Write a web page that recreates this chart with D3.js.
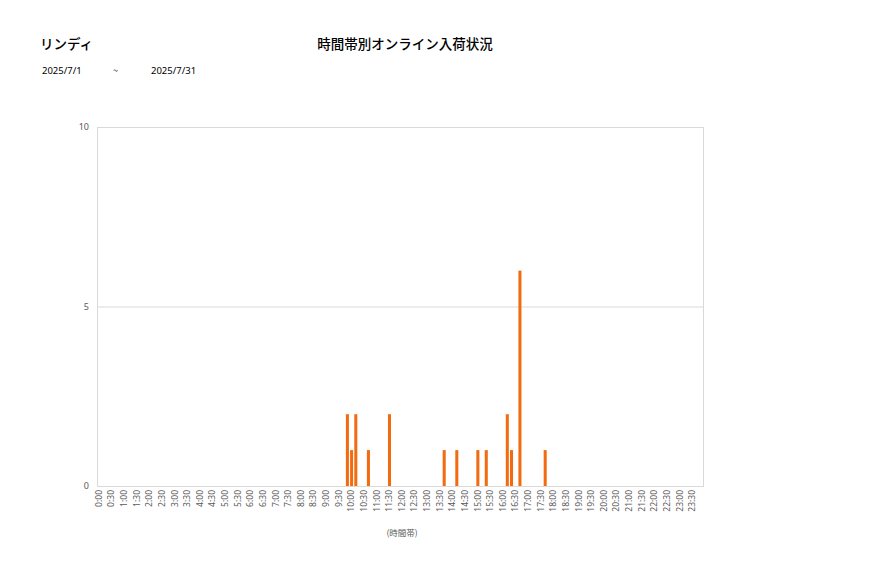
<!DOCTYPE html>
<html><head><meta charset="utf-8">
<script src="https://cdn.jsdelivr.net/npm/d3@7"></script>
<style>body{margin:0;background:#fff;font-family:"Noto Sans CJK JP","Noto Sans",sans-serif;}</style>
</head><body>
<svg id="c" width="877" height="578"></svg>
<script>
const storeName = "リンディ";
const chartTitle = "時間帯別オンライン入荷状況";
const dateFrom = "2025/7/1";
const dateTo = "2025/7/31";
const axisTitle = "(時間帯)";
// 10-minute slots with arrivals (others are zero)
const slotTimes = ["9:50","10:00","10:10","10:40","11:30","13:40","14:10","15:00","15:20","16:10","16:20","16:40","17:40"];
const slotValues = [2,1,2,1,2,1,1,1,1,2,1,6,1];
const yTicks = [0,5,10];

const cats = [];
for (let h=0;h<24;h++) for (let m=0;m<60;m+=10) cats.push(h+":"+(m===0?"00":m));
const valMap = new Map(slotTimes.map((t,i)=>[t,slotValues[i]]));
const data = cats.map(c=>({t:c,v:valMap.get(c)||0}));
const labelCats = cats.filter((c,i)=>i%3===0);

const svg = d3.select("#c");
const L=97,R=703,T=127,B=486;
const x = d3.scaleBand().domain(cats).range([L,R]).paddingInner(0.28).paddingOuter(0.14);
const y = d3.scaleLinear().domain([0,10]).range([B,T]);

// gridlines
svg.append("g").selectAll("line").data(yTicks).join("line")
  .attr("x1",L).attr("x2",R).attr("y1",d=>y(d)+0.5).attr("y2",d=>y(d)+0.5)
  .attr("stroke","#d9d9d9").attr("stroke-width",1);
svg.append("rect").attr("x",L+0.5).attr("y",T+0.5).attr("width",R-L).attr("height",B-T)
  .attr("fill","none").attr("stroke","#d9d9d9");

// bars
svg.append("g").selectAll("rect").data(data.filter(d=>d.v>0)).join("rect")
  .attr("x",d=>x(d.t)).attr("width",x.bandwidth())
  .attr("y",d=>y(d.v)).attr("height",d=>y(0)-y(d.v))
  .attr("fill","#f26b10");

// y axis labels
const ya = d3.axisLeft(y).tickValues(yTicks).tickSize(0).tickPadding(8);
const yg = svg.append("g").attr("transform",`translate(${L},0)`).call(ya);
yg.select(".domain").remove();
yg.selectAll("text").attr("font-size",9).attr("fill","#595959").attr("font-family","'Noto Sans',sans-serif");

// x axis labels
const xa = d3.axisBottom(x).tickValues(labelCats).tickSize(0).tickPadding(4);
const xg = svg.append("g").attr("transform",`translate(0,${B})`).call(xa);
xg.select(".domain").remove();
xg.selectAll("text").attr("font-size",8.5).attr("fill","#595959").attr("font-family","'Noto Sans',sans-serif")
  .attr("transform","rotate(-90)").attr("text-anchor","end").attr("dy","0.32em").attr("x",-4).attr("y",0);

// texts
svg.append("text").attr("x",40).attr("y",49).attr("font-size",13.5).attr("font-weight",500).attr("fill","#000").text(storeName);
svg.append("text").attr("x",405).attr("y",49).attr("text-anchor","middle").attr("font-size",13.5).attr("font-weight",500).attr("fill","#000").text(chartTitle);
svg.append("text").attr("x",42).attr("y",74).attr("font-size",9.5).attr("fill","#000").attr("font-family","'Noto Sans',sans-serif").text(dateFrom);
svg.append("text").attr("x",113).attr("y",74).attr("font-size",9).attr("fill","#000").text("~");
svg.append("text").attr("x",151).attr("y",74).attr("font-size",9.5).attr("fill","#000").attr("font-family","'Noto Sans',sans-serif").text(dateTo);
svg.append("text").attr("x",402).attr("y",536).attr("text-anchor","middle").attr("font-size",8.5).attr("fill","#595959").text(axisTitle);
</script>
</body></html>
